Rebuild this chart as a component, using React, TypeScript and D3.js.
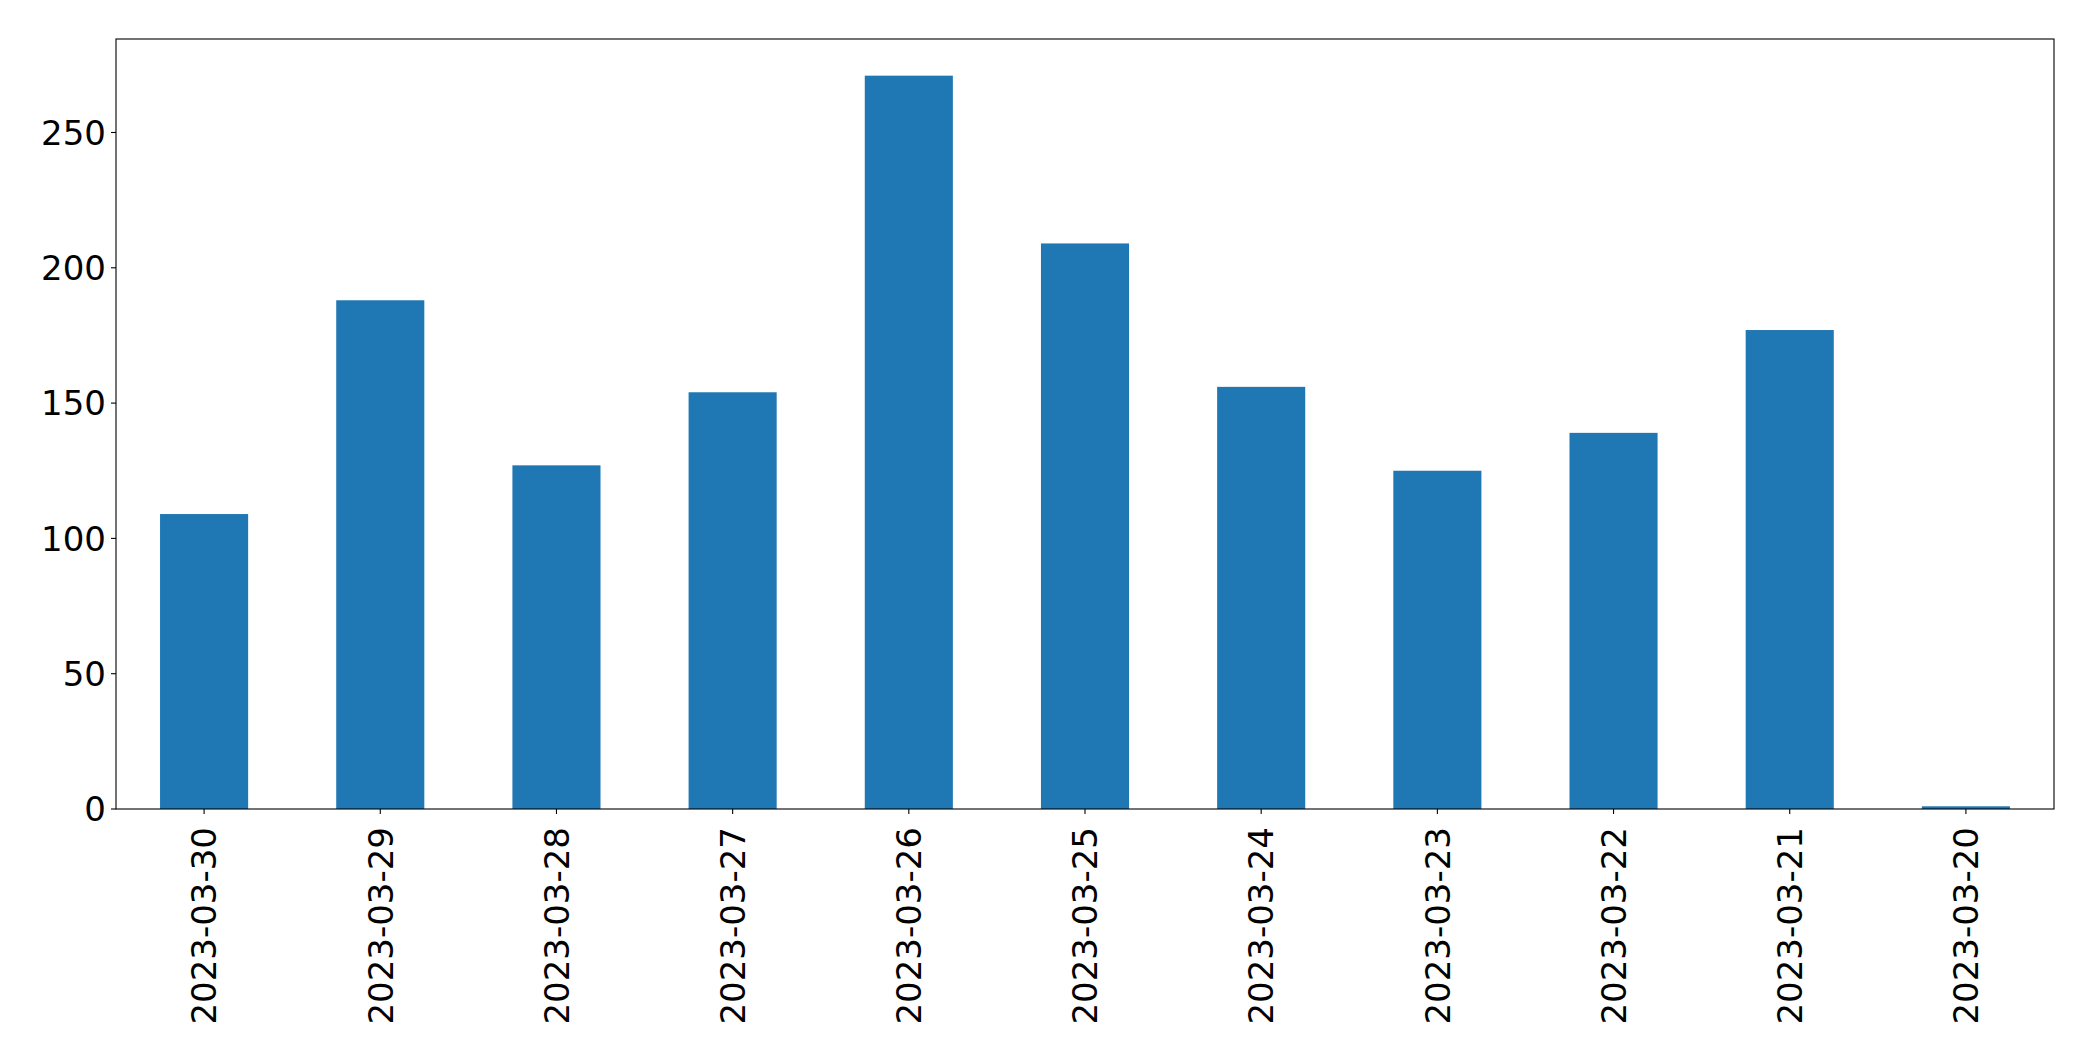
import React from "react";
import * as d3 from "d3";

const categories = [
  "2023-03-30", "2023-03-29", "2023-03-28", "2023-03-27", "2023-03-26",
  "2023-03-25", "2023-03-24", "2023-03-23", "2023-03-22", "2023-03-21", "2023-03-20",
];
const values = [109, 188, 127, 154, 271, 209, 156, 125, 139, 177, 1];
const yTicks = [0, 50, 100, 150, 200, 250];

const W = 2093;
const H = 1061;
const left = 116;
const right = 2054;
const top = 39;
const bottom = 809;
const FONT = "DejaVu Sans";
const FS = 34;

export default function App() {
  const idx = categories.map((_, i) => i);
  const x = d3.scaleLinear().domain([-0.5, categories.length - 0.5]).range([left, right]);
  const yMax = d3.max(values)! * 1.05;
  const y = d3.scaleLinear().domain([0, yMax]).range([bottom, top]);
  const barW = x(0.25) - x(-0.25);

  return (
    <svg
      width={W}
      height={H}
      style={{ position: "absolute", left: 0, top: 0, display: "block", background: "#fff" }}
    >
      <rect x={0} y={0} width={W} height={H} fill="#fff" />
      {idx.map((i) => (
        <rect
          key={i}
          x={x(i) - barW / 2}
          y={y(values[i])}
          width={barW}
          height={y(0) - y(values[i])}
          fill="#1f77b4"
        />
      ))}
      <rect
        x={left}
        y={top}
        width={right - left}
        height={bottom - top}
        fill="none"
        stroke="#000"
        strokeWidth={1.1}
      />
      {yTicks.map((t) => (
        <g key={t}>
          <line x1={left - 5} x2={left} y1={y(t)} y2={y(t)} stroke="#000" strokeWidth={1.1} />
          <text
            x={left - 10}
            y={y(t)}
            dy="0.36em"
            textAnchor="end"
            fontFamily={FONT}
            fontSize={FS}
            fill="#000"
          >
            {t}
          </text>
        </g>
      ))}
      {idx.map((i) => (
        <g key={"xt" + i}>
          <line x1={x(i)} x2={x(i)} y1={bottom} y2={bottom + 5} stroke="#000" strokeWidth={1.1} />
          <text
            transform={`translate(${x(i)},${bottom + 18}) rotate(-90)`}
            dy="0.36em"
            textAnchor="end"
            fontFamily={FONT}
            fontSize={FS}
            fill="#000"
          >
            {categories[i]}
          </text>
        </g>
      ))}
    </svg>
  );
}
